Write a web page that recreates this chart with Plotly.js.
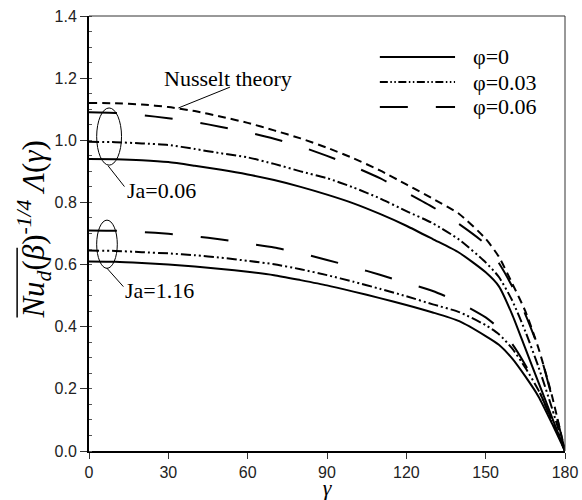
<!DOCTYPE html>
<html>
<head>
<meta charset="utf-8">
<script src="https://cdn.plot.ly/plotly-3.0.1.min.js"></script>
<style>
html,body{margin:0;padding:0;background:#fff;}
#chart{width:582px;height:500px;}
</style>
</head>
<body>
<div id="chart"></div>
<script>
// Angle gamma (degrees)
const gamma = [0,10,20,30,40,50,60,70,80,90,100,110,120,130,140,150,155,160,165,170,175,180];

// Nusselt theory
const nusselt = [1.12,1.119,1.115,1.107,1.094,1.076,1.056,1.032,1.006,0.976,0.942,0.903,0.858,0.812,0.763,0.683,0.625,0.54,0.45,0.33,0.18,0];

// Ja = 0.06
const ja006_phi0   = [0.94,0.939,0.936,0.93,0.918,0.905,0.89,0.872,0.85,0.825,0.797,0.763,0.725,0.682,0.638,0.575,0.53,0.44,0.33,0.22,0.11,0];
const ja006_phi003 = [0.995,0.994,0.99,0.985,0.972,0.958,0.945,0.924,0.9,0.878,0.848,0.813,0.772,0.733,0.68,0.607,0.56,0.485,0.385,0.27,0.14,0];
const ja006_phi006 = [1.09,1.088,1.081,1.071,1.059,1.043,1.026,1.005,0.98,0.95,0.916,0.878,0.832,0.785,0.73,0.665,0.605,0.53,0.44,0.33,0.175,0];

// Ja = 1.16
const ja116_phi0   = [0.61,0.609,0.605,0.6,0.594,0.586,0.577,0.566,0.55,0.533,0.513,0.492,0.47,0.446,0.418,0.37,0.342,0.298,0.24,0.175,0.09,0];
const ja116_phi003 = [0.645,0.644,0.64,0.636,0.63,0.622,0.612,0.601,0.585,0.566,0.545,0.522,0.498,0.472,0.447,0.405,0.376,0.33,0.268,0.195,0.1,0];
const ja116_phi006 = [0.71,0.709,0.705,0.699,0.691,0.681,0.668,0.655,0.637,0.615,0.592,0.567,0.541,0.515,0.478,0.43,0.395,0.345,0.277,0.197,0.1,0];

const legendLabels = ["\u03c6=0","\u03c6=0.03","\u03c6=0.06"];
const xTicks = [0,30,60,90,120,150,180];
const yTicks = [0,0.2,0.4,0.6,0.8,1.0,1.2,1.4];

const DASH_SHORT = "8px,5px";
const DASH_LONG = "28px,28px";
const DASH_DDOT = "10px,3px,2px,3px,2px,3px";

function tr(y, dash, name){
  return {x: gamma, y: y, type:'scatter', mode:'lines', name: name, showlegend:false,
    line:{color:'#000', width:2, dash: dash, shape:'spline', smoothing:0.6}, hoverinfo:'skip'};
}

const data = [
  tr(nusselt, DASH_SHORT, 'Nusselt theory'),
  tr(ja006_phi0, 'solid', legendLabels[0]),
  tr(ja006_phi003, DASH_DDOT, legendLabels[1]),
  tr(ja006_phi006, DASH_LONG, legendLabels[2]),
  tr(ja116_phi0, 'solid', legendLabels[0]),
  tr(ja116_phi003, DASH_DDOT, legendLabels[1]),
  tr(ja116_phi006, DASH_LONG, legendLabels[2])
];

const serif = 'Liberation Serif, Times New Roman, serif';
const sans = 'Liberation Sans, Arial, sans-serif';

// legend placement (paper coords)
const legX0 = 0.611, legX1 = 0.769, legTextX = 0.803;
const legY = [0.906, 0.848, 0.791];
const legDash = ['solid', "8px,2.5px,1.5px,2.5px,1.5px,2.5px", "28px,28px"];

const shapes = [
  // top/right thin border
  {type:'line', xref:'paper', yref:'paper', x0:0, x1:1, y0:1, y1:1, line:{color:'#333', width:1}},
  {type:'line', xref:'paper', yref:'paper', x0:1, x1:1, y0:0, y1:1, line:{color:'#333', width:1}},
  // ellipses
  {type:'circle', xref:'x', yref:'y', x0:2.9, x1:12.3, y0:0.92, y1:1.104, line:{color:'#000', width:1}},
  {type:'circle', xref:'x', yref:'y', x0:2.9, x1:10.7, y0:0.588, y1:0.743, line:{color:'#000', width:1}},
  // leader lines
  {type:'line', xref:'x', yref:'y', x0:7.2, y0:0.918, x1:13.4, y1:0.851, line:{color:'#000', width:1}},
  {type:'line', xref:'x', yref:'y', x0:6.7, y0:0.589, x1:13.0, y1:0.529, line:{color:'#000', width:1}},
  {type:'line', xref:'x', yref:'y', x0:53.3, y0:1.171, x1:33.8, y1:1.104, line:{color:'#000', width:1}},
  // overline on Nu_d
  {type:'line', xref:'paper', yref:'paper', x0:-0.151, x1:-0.151, y0:0.307, y1:0.467, line:{color:'#000', width:1.5}}
];
legY.forEach((y,i)=>{
  shapes.push({type:'line', xref:'paper', yref:'paper', x0:legX0, x1:legX1, y0:y, y1:y, line:{color:'#000', width:2, dash:legDash[i]}});
});

const annotations = [
  {xref:'paper', yref:'paper', x:-0.165, y:0.51, textangle:-90, showarrow:false,
   text:'<i>Nu<sub>d</sub></i>(<i>β</i>)<sup><i>-1/4</i></sup> <i>Λ</i>(<i>γ</i>)',
   font:{family:serif, size:31, color:'#000'}},
  {xref:'x', yref:'y', x:27.5, y:1.2, xanchor:'left', yanchor:'middle', showarrow:false,
   text:'Nusselt theory', font:{family:serif, size:22, color:'#000'}},
  {xref:'x', yref:'y', x:13.6, y:0.84, xanchor:'left', yanchor:'middle', showarrow:false,
   text:'Ja=0.06', font:{family:serif, size:22, color:'#000'}},
  {xref:'x', yref:'y', x:13.0, y:0.518, xanchor:'left', yanchor:'middle', showarrow:false,
   text:'Ja=1.16', font:{family:serif, size:22, color:'#000'}}
];
legY.forEach((y,i)=>{
  annotations.push({xref:'paper', yref:'paper', x:legTextX, y:y, xanchor:'left', yanchor:'middle', showarrow:false,
    text:legendLabels[i], font:{family:serif, size:22, color:'#000'}});
});

const layout = {
  width:582, height:500,
  margin:{l:89, r:17, t:16, b:49},
  paper_bgcolor:'#fff', plot_bgcolor:'#fff',
  showlegend:false,
  xaxis:{range:[0,180], tickvals:xTicks, ticktext:xTicks.map(String), ticks:'outside', ticklen:6, tickwidth:1,
    tickcolor:'#333', showline:true, linewidth:2, linecolor:'#000', showgrid:false, zeroline:false,
    tickfont:{family:sans, size:16, color:'#222'}, automargin:false,
    title:{text:'<i>γ</i>', font:{family:serif, size:22, color:'#000'}, standoff:6}},
  yaxis:{range:[0,1.4], tickvals:yTicks, ticktext:yTicks.map(v=>v.toFixed(1)), ticks:'outside', ticklen:7, tickwidth:1,
    tickcolor:'#333', showline:true, linewidth:2, linecolor:'#000', showgrid:false, zeroline:false,
    tickfont:{family:sans, size:16, color:'#222'}, automargin:false,
    minor:{ticks:'inside', dtick:0.05, tick0:0, ticklen:3, tickcolor:'#555', showgrid:false}},
  shapes: shapes,
  annotations: annotations
};

Plotly.newPlot('chart', data, layout, {displayModeBar:false, staticPlot:true});
</script>
</body>
</html>
